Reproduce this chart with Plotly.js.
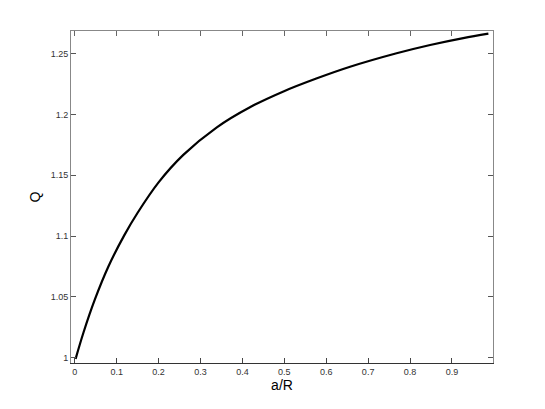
<!DOCTYPE html>
<html>
<head>
<meta charset="utf-8">
<script src="https://cdn.plot.ly/plotly-3.0.1.min.js"></script>
<style>
html,body{margin:0;padding:0;background:#fff;}
#chart{width:545px;height:409px;}
</style>
</head>
<body>
<div id="chart"></div>
<script>
// a/R values
const aR = [0.002, 0.021, 0.048, 0.080, 0.118, 0.150, 0.200, 0.259, 0.339, 0.418, 0.498, 0.578, 0.657, 0.768, 0.848, 0.927, 0.987];
// Q values
const Q  = [0.999, 1.0209, 1.0479, 1.0748, 1.1006, 1.1192, 1.1442, 1.1668, 1.1895, 1.2060, 1.219, 1.2298, 1.2393, 1.2504, 1.2572, 1.2629, 1.2665];

const xTicks = [0, 0.1, 0.2, 0.3, 0.4, 0.5, 0.6, 0.7, 0.8, 0.9];
const xTickText = ["0", "0.1", "0.2", "0.3", "0.4", "0.5", "0.6", "0.7", "0.8", "0.9"];
const yTicks = [1, 1.05, 1.1, 1.15, 1.2, 1.25];
const yTickText = ["1", "1.05", "1.1", "1.15", "1.2", "1.25"];

const tickFont = {family: "Liberation Sans, Arial, sans-serif", size: 9, color: "#333"};

const traces = [
  {
    x: aR, y: Q, type: "scatter", mode: "lines",
    line: {color: "#000", width: 2.2, shape: "spline", smoothing: 1},
    hoverinfo: "skip", showlegend: false
  },
  {
    x: [], y: [], type: "scatter", mode: "lines", xaxis: "x2", showlegend: false, hoverinfo: "skip"
  }
];

const layout = {
  width: 545, height: 409,
  margin: {l: 71, r: 52, t: 31, b: 46},
  paper_bgcolor: "#fff", plot_bgcolor: "#fff",
  showlegend: false,
  xaxis: {
    range: [-0.009, 0.998],
    tickvals: xTicks, ticktext: xTickText,
    ticks: "inside", ticklen: 5, tickcolor: "#444", tickwidth: 1,
    showline: true, linecolor: "#333", linewidth: 1,
    mirror: false, showgrid: false, zeroline: false,
    tickfont: tickFont,
    title: {text: "a/R", font: {family: "Liberation Sans, Arial, sans-serif", size: 14, color: "#000"}, standoff: 4}
  },
  xaxis2: {
    overlaying: "x", side: "top", matches: "x",
    range: [-0.009, 0.998],
    tickvals: xTicks, showticklabels: false,
    ticks: "inside", ticklen: 5, tickcolor: "#666", tickwidth: 1,
    showline: true, linecolor: "#888", linewidth: 1,
    showgrid: false, zeroline: false
  },
  yaxis: {
    range: [0.9956, 1.2687],
    tickvals: yTicks, ticktext: yTickText,
    ticks: "inside", ticklen: 5, tickcolor: "#555", tickwidth: 1,
    showline: true, linecolor: "#888", linewidth: 1,
    mirror: "ticks", showgrid: false, zeroline: false,
    tickfont: tickFont,
    title: {text: "Q", font: {family: "Liberation Sans, Arial, sans-serif", size: 14, color: "#000"}, standoff: 6}
  }
};

Plotly.newPlot("chart", traces, layout, {staticPlot: true, displayModeBar: false});
</script>
</body>
</html>
